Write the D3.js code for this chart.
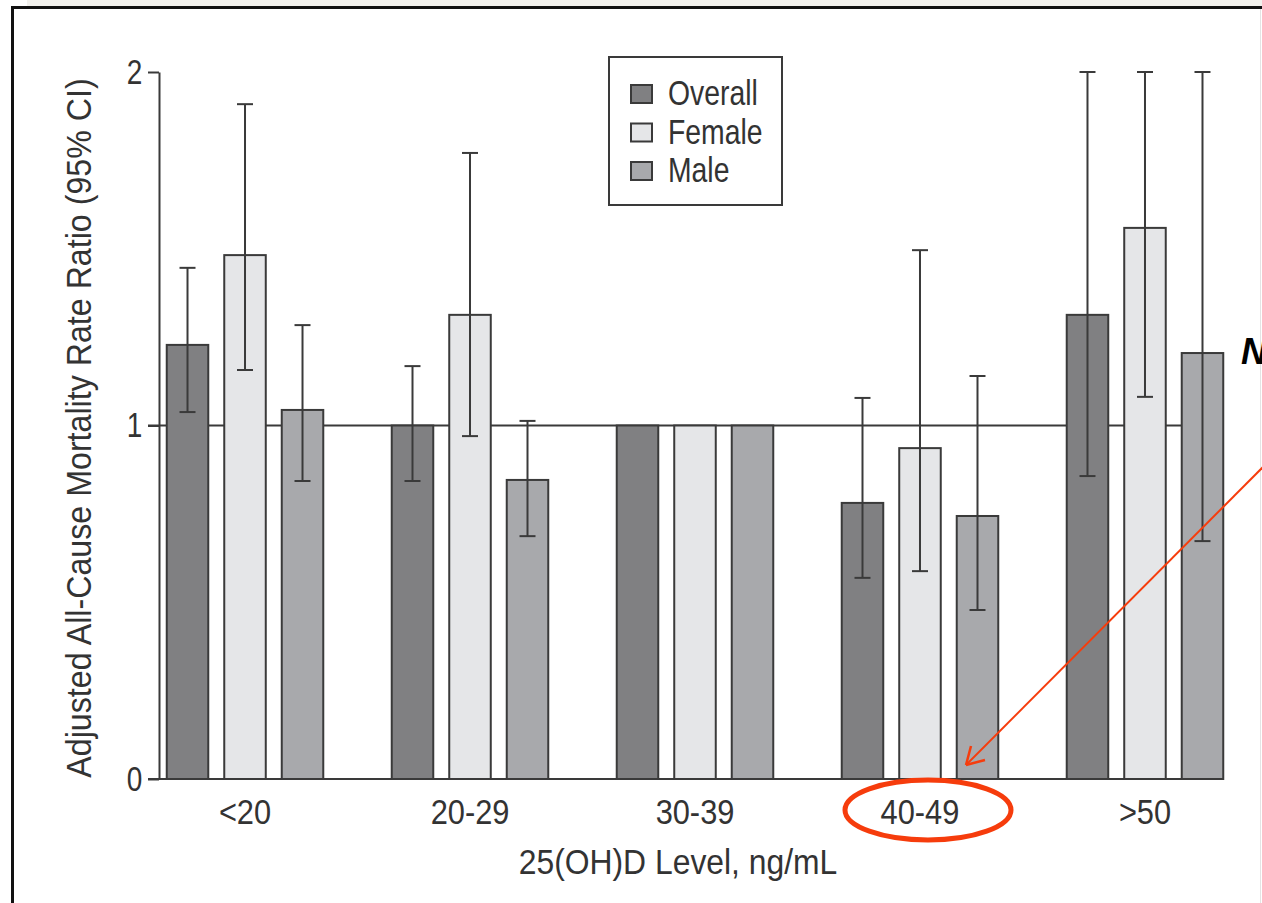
<!DOCTYPE html>
<html>
<head>
<meta charset="utf-8">
<script src="https://cdn.jsdelivr.net/npm/d3@7"></script>
<style>
  body { margin: 0; background: #fff; }
  svg { display: block; }
  text { font-family: "Liberation Sans", Arial, sans-serif; }
</style>
</head>
<body>
<svg id="chart"></svg>
<script>
const groups = ["<20", "20-29", "30-39", "40-49", ">50"];
const series = ["Overall", "Female", "Male"];
const colors = ["#808082", "#e5e6e8", "#a8a9ac"];

// rate ratio per group, one array per series
const overall = [1.228, 1.0, 1.0, 0.781, 1.313];
const female = [1.482, 1.313, 1.0, 0.936, 1.559];
const male = [1.044, 0.846, 1.0, 0.744, 1.205];

// 95% CI (reference group 30-39 has none); upper values capped at the axis top
const overallLow = [1.038, 0.843, null, 0.569, 0.857];
const overallHigh = [1.446, 1.168, null, 1.078, 2.0];
const femaleLow = [1.157, 0.970, null, 0.588, 1.081];
const femaleHigh = [1.909, 1.771, null, 1.496, 2.0];
const maleLow = [0.843, 0.687, null, 0.478, 0.673];
const maleHigh = [1.284, 1.013, null, 1.140, 2.0];

const yTicks = [0, 1, 2];

const WIDTH = 1262;
const HEIGHT = 903;
const FS = 35;

const svg = d3.select("#chart")
  .attr("width", WIDTH)
  .attr("height", HEIGHT);

const values = [overall, female, male];
const lows = [overallLow, femaleLow, maleLow];
const highs = [overallHigh, femaleHigh, maleHigh];

const rows = [];
groups.forEach((g, i) => {
  series.forEach((s, j) => {
    rows.push({ group: g, series: s, color: colors[j], value: values[j][i], low: lows[j][i], high: highs[j][i] });
  });
});

// screenshot frame
svg.append("rect").attr("x", 27).attr("y", 0).attr("width", WIDTH).attr("height", 7).attr("fill", "#f2f1ed");
svg.append("line").attr("x1", 11).attr("x2", WIDTH).attr("y1", 7.5).attr("y2", 7.5)
  .attr("stroke", "#111").attr("stroke-width", 3);
svg.append("line").attr("x1", 12.5).attr("x2", 12.5).attr("y1", 6).attr("y2", HEIGHT)
  .attr("stroke", "#111").attr("stroke-width", 3);
svg.append("line").attr("x1", 1260.5).attr("x2", 1260.5).attr("y1", 9).attr("y2", HEIGHT)
  .attr("stroke", "#e4e4e4").attr("stroke-width", 1);

const x = d3.scaleBand()
  .domain(groups)
  .range([132.5, 1257.5])
  .paddingInner(0.2333)
  .paddingOuter(0.1167);

const xSub = d3.scaleBand()
  .domain(series)
  .range([0, x.bandwidth()])
  .paddingInner(0.278)
  .paddingOuter(0.139);

const y = d3.scaleLinear()
  .domain([0, 2])
  .range([779, 72]);

const ink = "#3a3a3a";
const txt = "#333";

// reference line at 1 and the zero baseline
[0, 1].forEach(v => {
  svg.append("line")
    .attr("x1", 148).attr("x2", 1223)
    .attr("y1", y(v)).attr("y2", y(v))
    .attr("stroke", ink).attr("stroke-width", 2);
});

const yAxis = d3.axisLeft(y)
  .tickValues(yTicks)
  .tickFormat(d3.format("d"))
  .tickSize(11)
  .tickSizeOuter(0)
  .tickPadding(10);

const gy = svg.append("g")
  .attr("transform", "translate(159,0)")
  .call(yAxis);
gy.select(".domain").attr("stroke", ink).attr("stroke-width", 2);
gy.selectAll(".tick line").attr("stroke", ink).attr("stroke-width", 2);
gy.selectAll(".tick text")
  .attr("font-size", FS)
  .attr("fill", txt)
  .attr("transform", "scale(0.8,1)")
  .style("font-family", "'Liberation Sans', Arial, sans-serif");

// bars
svg.append("g")
  .selectAll("rect")
  .data(rows)
  .join("rect")
  .attr("x", d => x(d.group) + xSub(d.series))
  .attr("y", d => y(d.value))
  .attr("width", xSub.bandwidth())
  .attr("height", d => y(0) - y(d.value))
  .attr("fill", d => d.color)
  .attr("stroke", ink)
  .attr("stroke-width", 2);

// error bars
const errs = rows.filter(d => d.low !== null);
const cx = d => x(d.group) + xSub(d.series) + xSub.bandwidth() / 2;
const eg = svg.append("g").attr("stroke", ink).attr("stroke-width", 2);
eg.selectAll(".stem").data(errs).join("line").attr("class", "stem")
  .attr("x1", cx).attr("x2", cx)
  .attr("y1", d => y(d.low)).attr("y2", d => y(d.high));
eg.selectAll(".capL").data(errs).join("line").attr("class", "capL")
  .attr("x1", d => cx(d) - 8).attr("x2", d => cx(d) + 8)
  .attr("y1", d => y(d.low)).attr("y2", d => y(d.low));
eg.selectAll(".capH").data(errs).join("line").attr("class", "capH")
  .attr("x1", d => cx(d) - 8).attr("x2", d => cx(d) + 8)
  .attr("y1", d => y(d.high)).attr("y2", d => y(d.high));

// x tick labels (condensed look)
svg.append("g")
  .selectAll("text")
  .data(groups)
  .join("text")
  .attr("transform", d => `translate(${x(d) + x.bandwidth() / 2},824) scale(0.88,1)`)
  .attr("text-anchor", "middle")
  .attr("font-size", FS)
  .attr("fill", txt)
  .text(d => d);

// axis titles
svg.append("text")
  .attr("transform", "translate(678,874) scale(0.91,1)")
  .attr("text-anchor", "middle")
  .attr("font-size", FS)
  .attr("fill", txt)
  .text("25(OH)D Level, ng/mL");

svg.append("text")
  .attr("transform", "translate(91,428) rotate(-90) scale(0.92,1)")
  .attr("text-anchor", "middle")
  .attr("font-size", FS)
  .attr("fill", txt)
  .text("Adjusted All-Cause Mortality Rate Ratio (95% CI)");

// legend
const lg = svg.append("g").attr("transform", "translate(609,57)");
lg.append("rect").attr("width", 173).attr("height", 148)
  .attr("fill", "#fff").attr("stroke", ink).attr("stroke-width", 2);
series.forEach((s, j) => {
  const row = lg.append("g").attr("transform", `translate(22,${28 + j * 38.5})`);
  row.append("rect").attr("width", 21).attr("height", 18)
    .attr("fill", colors[j]).attr("stroke", ink).attr("stroke-width", 2);
  row.append("text").attr("transform", "translate(37,20) scale(0.81,1)")
    .attr("font-size", FS).attr("fill", txt).text(s);
});

// slide annotations
svg.append("ellipse")
  .attr("cx", 928).attr("cy", 810).attr("rx", 83).attr("ry", 30)
  .attr("fill", "none").attr("stroke", "#f63c0c").attr("stroke-width", 5);

svg.append("line")
  .attr("x1", 1264).attr("y1", 466).attr("x2", 966).attr("y2", 765)
  .attr("stroke", "#f63c0c").attr("stroke-width", 2);
svg.append("path")
  .attr("d", "M966,765 L971,746 M966,765 L985,760")
  .attr("fill", "none").attr("stroke", "#f63c0c").attr("stroke-width", 2.5);

svg.append("text")
  .attr("x", 1241).attr("y", 364)
  .attr("font-size", 36)
  .attr("font-weight", "bold")
  .attr("font-style", "italic")
  .attr("fill", "#000")
  .text("N");
</script>
</body>
</html>
